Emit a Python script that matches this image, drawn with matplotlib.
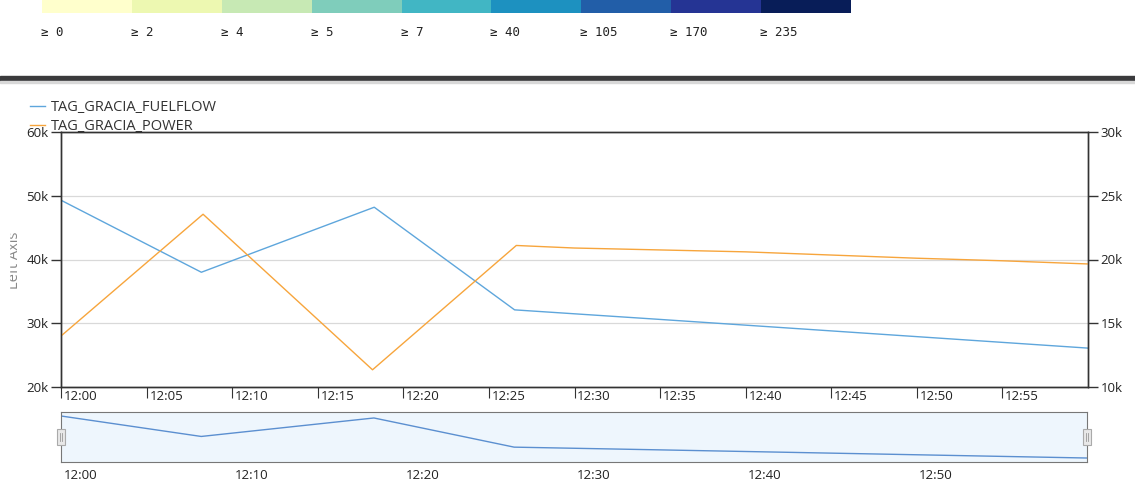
import matplotlib.pyplot as plt
from matplotlib.patches import Rectangle

W, H = 1135, 500

# colour legend band
band_labels = ['≥ 0', '≥ 2', '≥ 4', '≥ 5', '≥ 7', '≥ 40', '≥ 105', '≥ 170', '≥ 235']
band_colors = ['#ffffcc', '#edf8b1', '#c7e9b4', '#7fcdbb', '#41b6c4',
               '#1d91c0', '#225ea8', '#253494', '#081d58']

# series (minutes after 12:00)
flow_t = [0, 8.2, 18.3, 26.5, 35, 45, 60]
flow_v = [49300, 38000, 48200, 32100, 30600, 28800, 26100]
power_t = [0, 8.3, 18.2, 26.6, 30, 35, 40, 45, 50, 55, 60]
power_v = [14000, 23550, 11350, 21100, 20900, 20750, 20600, 20350, 20100, 19900, 19650]

main_ticks = list(range(0, 60, 5))
main_labels = ['12:%02d' % m for m in main_ticks]
nav_ticks = list(range(0, 60, 10))
nav_labels = ['12:%02d' % m for m in nav_ticks]

plt.rcParams['font.family'] = ['Open Sans', 'DejaVu Sans']

fig = plt.figure(figsize=(W / 100, H / 100), dpi=100)


def box(x0, y0, x1, y1):
    return [x0 / W, 1 - y1 / H, (x1 - x0) / W, (y1 - y0) / H]


# top band
bax = fig.add_axes(box(42, 0, 851, 13))
bax.bar(range(len(band_colors)), [1] * len(band_colors), width=1, align='edge',
        color=band_colors)
bax.set_xlim(0, len(band_colors))
bax.set_ylim(0, 1)
bax.axis('off')
for i, lab in enumerate(band_labels):
    fig.text((41 + i * 809 / 9) / W, 1 - 32 / H, lab, family='DejaVu Sans Mono',
             fontsize=9, va='center', ha='left', color='#222222')

# dark separator
fig.patches.append(Rectangle((0, 1 - 81 / H), 1, 5 / H, transform=fig.transFigure,
                             color='#3a3a3c', zorder=0))
fig.patches.append(Rectangle((0, 1 - 83 / H), 1, 2 / H, transform=fig.transFigure,
                             color='#d8d8d8', zorder=0))

# main chart
ax = fig.add_axes(box(61, 132, 1088, 387))
ax2 = ax.twinx()
ax.set_xlim(0, 60)
ax.set_ylim(20000, 60000)
ax2.set_ylim(10000, 30000)
ax.set_yticks([20000, 30000, 40000, 50000, 60000])
ax.set_yticklabels(['20k', '30k', '40k', '50k', '60k'])
ax2.set_yticks([10000, 15000, 20000, 25000, 30000])
ax2.set_yticklabels(['10k', '15k', '20k', '25k', '30k'])
ax.grid(axis='y', color='#d9d9d9', linewidth=0.9)
ax.set_axisbelow(True)
for a in (ax, ax2):
    for s in a.spines.values():
        s.set_color('#333333')
        s.set_linewidth(1)
    a.tick_params(axis='y', length=7, width=1, color='#333333', labelsize=9.5,
                  labelcolor='#222222', pad=2)
ax.set_xticks(main_ticks)
ax.set_xticklabels([])
ax.tick_params(axis='x', length=8, width=0.8, color='#333333')
for t, lab in zip(main_ticks, main_labels):
    ax.annotate(lab, (t, 0), xycoords=('data', 'axes fraction'), xytext=(2, -2),
                textcoords='offset points', ha='left', va='top', fontsize=9.5,
                color='#222222')

# axis title, clipped at its top by the panel edge
fig.text(7 / W, 1 - 260 / H, 'Left Axis', rotation=90, color='#888888',
         fontsize=10.5, ha='left', va='center')
fig.patches.append(Rectangle((0, 1 - 300 / H), 9 / W, 80 / H, transform=fig.transFigure,
                             color='white', zorder=10))

l1, = ax.plot(flow_t, flow_v, color='#5ea6dc', linewidth=1, label='TAG_GRACIA_FUELFLOW')
l2, = ax2.plot(power_t, power_v, color='#f7a53c', linewidth=1, label='TAG_GRACIA_POWER')
fig.legend(handles=[l1, l2], loc='upper left', bbox_to_anchor=(30 / W, 1 - 100 / H),
           frameon=False, fontsize=10.5, handlelength=1.05, handletextpad=0.4,
           labelspacing=0.28, borderaxespad=0, borderpad=0, labelcolor='#333333')

# navigator
nax = fig.add_axes(box(61, 412, 1087, 462))
nax.set_facecolor('#eef6fd')
nax.plot(flow_t, flow_v, color='#5b8fd0', linewidth=1)
nax.set_xlim(0, 60)
nax.set_ylim(23900, 51500)
nax.set_yticks([])
nax.set_xticks(nav_ticks)
nax.set_xticklabels([])
nax.tick_params(axis='x', length=0)
for s in nax.spines.values():
    s.set_color('#777777')
for t, lab in zip(nav_ticks, nav_labels):
    nax.annotate(lab, (t, 0), xycoords=('data', 'axes fraction'), xytext=(2, -5),
                 textcoords='offset points', ha='left', va='top', fontsize=9.5,
                 color='#222222')
for hx in (61, 1087):
    fig.patches.append(Rectangle(((hx - 4) / W, 1 - 445 / H), 8 / W, 16 / H,
                                 transform=fig.transFigure, facecolor='#e8e8e8',
                                 edgecolor='#aaaaaa', linewidth=0.8, zorder=5))
    for dx in (-1, 1):
        fig.lines.append(plt.Line2D([(hx + dx) / W] * 2, [1 - 441 / H, 1 - 433 / H],
                                    transform=fig.transFigure, color='#999999',
                                    linewidth=0.6, zorder=6))

fig.savefig('out.png', dpi=100)
